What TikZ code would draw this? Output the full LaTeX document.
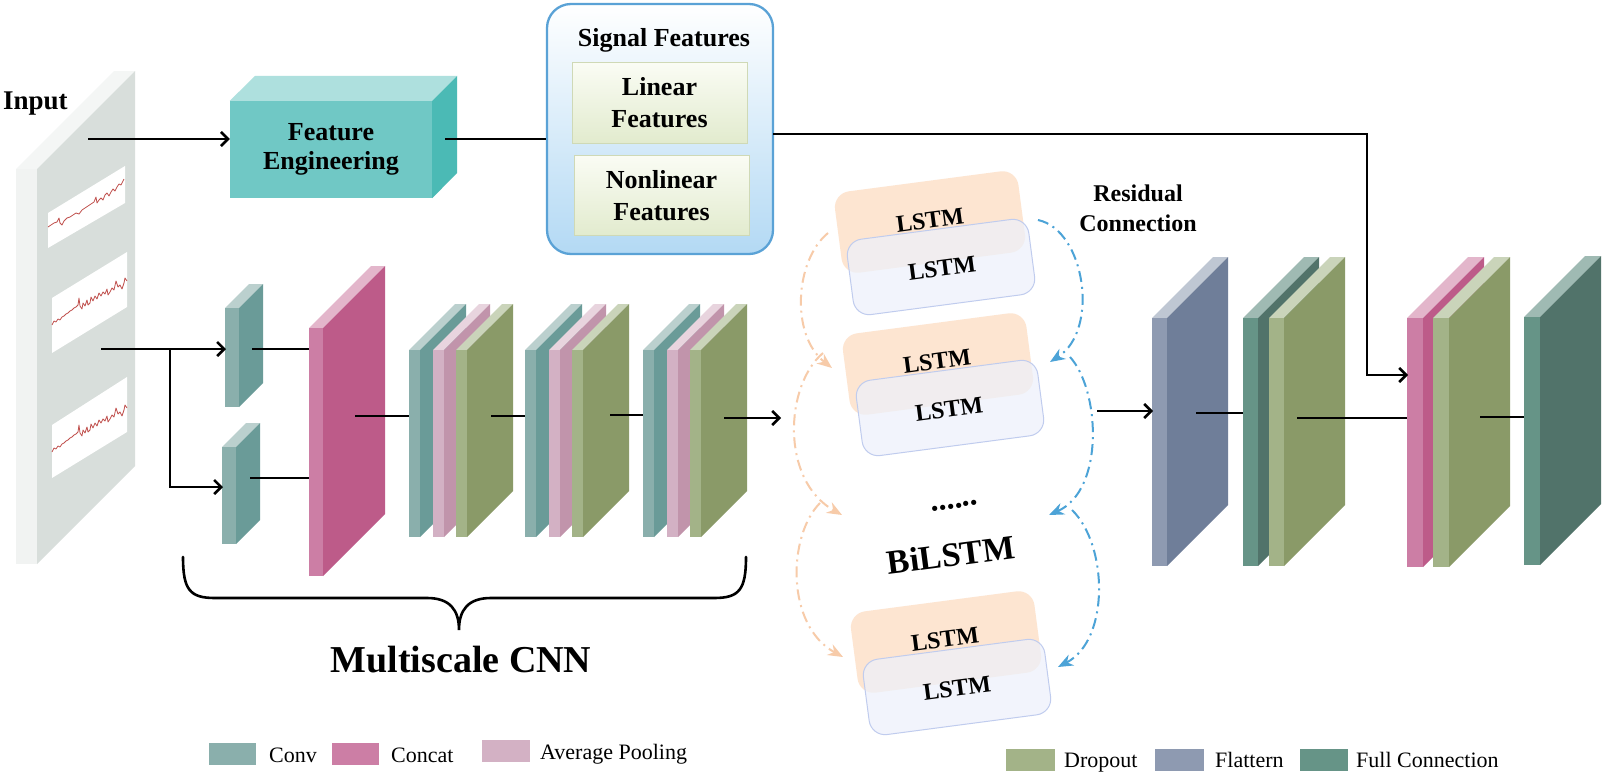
\documentclass[tikz,border=0pt]{standalone}
\usepackage{fontspec}
\setmainfont{Liberation Serif}
\usetikzlibrary{arrows.meta}
\definecolor{inF}{HTML}{F1F3F2}\definecolor{inS}{HTML}{D8DEDB}\definecolor{inT}{HTML}{F4F6F5}
\definecolor{feF}{HTML}{70C8C5}\definecolor{feS}{HTML}{4BBAB5}\definecolor{feT}{HTML}{AEE0DE}
\definecolor{cvF}{HTML}{8AAFAC}\definecolor{cvS}{HTML}{6A9B98}\definecolor{cvT}{HTML}{BBD0CE}
\definecolor{ctF}{HTML}{CC7EA5}\definecolor{ctS}{HTML}{BD5B89}\definecolor{ctT}{HTML}{E3B6CB}
\definecolor{apF}{HTML}{D3B1C4}\definecolor{apS}{HTML}{C194AB}\definecolor{apT}{HTML}{E8D4DE}
\definecolor{drF}{HTML}{A3B388}\definecolor{drS}{HTML}{8A9A68}\definecolor{drT}{HTML}{CAD4BA}
\definecolor{flF}{HTML}{8E9AB1}\definecolor{flS}{HTML}{6F7E99}\definecolor{flT}{HTML}{BFC7D3}
\definecolor{fcF}{HTML}{669487}\definecolor{fcS}{HTML}{51736A}\definecolor{fcT}{HTML}{9FBAB3}
\definecolor{sfB}{HTML}{5AA2D6}\definecolor{sfL}{HTML}{B3D9F4}
\definecolor{ibT}{HTML}{FAFCF4}\definecolor{ibB}{HTML}{E2EBCE}\definecolor{ibD}{HTML}{CFD9B6}
\definecolor{lor}{HTML}{FDE5D1}\definecolor{lbl}{HTML}{EDF1FB}\definecolor{lbd}{HTML}{C0CCEE}
\definecolor{dor}{HTML}{F7CBA9}\definecolor{dbl}{HTML}{4CA3D7}\definecolor{sig}{HTML}{C0504D}
% slab: name, x, ytop, ybottom, width, depth, front, side, top
\newcommand\slab[9]{%
  \fill[#9] (#2,#3) -- (#2+#5,#3) -- (#2+#5+#6,#3-#6) -- (#2+#6,#3-#6) -- cycle;
  \fill[#8] (#2+#5,#3) -- (#2+#5+#6,#3-#6) -- (#2+#5+#6,#4-#6) -- (#2+#5,#4) -- cycle;
  \fill[#7] (#2,#3) rectangle (#2+#5,#4);
  \coordinate (#1) at (#2,#3);}
\begin{document}
\begin{tikzpicture}[x=1pt,y=-1pt,
  ln/.style={line width=2.6pt,black},
  arr/.style={ln,-{Straight Barb[length=7pt,width=14pt]}},
  oarc/.style={line width=2pt,draw=dor,dash pattern=on 11pt off 5pt on 2pt off 5pt,-{Stealth[length=15pt,width=12pt]}},
  barc/.style={line width=2pt,draw=dbl,dash pattern=on 11pt off 5pt on 2pt off 5pt,-{Stealth[length=15pt,width=12pt]}},
  bt/.style={font=\bfseries\fontsize{26}{30}\selectfont,align=center},
  obox/.style={fill=lor,rounded corners=16pt,minimum width=185pt,minimum height=82pt,rotate=7.5,inner sep=0pt},
  bbox/.style={fill=lbl,fill opacity=0.72,draw=lbd,line width=1pt,rounded corners=16pt,minimum width=183pt,minimum height=76pt,rotate=7.5,inner sep=0pt},
  lt/.style={rotate=7.5,inner sep=0pt,font=\bfseries\fontsize{24}{26}\selectfont},
  ibox/.style={top color=ibT,bottom color=ibB,draw=ibD,line width=1pt,minimum width=175pt,minimum height=80pt,inner sep=0pt,bt,font=\bfseries\fontsize{26}{32}\selectfont},
  leg/.style={font=\fontsize{22}{26}\selectfont,anchor=base west,inner sep=0pt},
  sigl/.style={draw=sig,line width=0.8pt,line join=round}]
\useasboundingbox (0,0) rectangle (1605,776);
\fill[white] (0,0) rectangle (1605,776);

% ---------- input panel ----------
\slab{inp}{16}{169}{564}{21}{98}{inF}{inS}{inT}
\fill[white] (48,213) -- (125,166) -- (125,203) -- (48,248) -- cycle;
\fill[white] (52,298) -- (127,252) -- (127,307) -- (52,353) -- cycle;
\fill[white] (52,425) -- (127,377) -- (127,432) -- (52,478) -- cycle;
\begin{scope}[shift={(48,227)}]
\draw[sigl] plot coordinates {(0,0) (3,-2) (6,-4) (9,-5) (11,-9) (12,-4) (14,-2) (16,-6) (19,-9) (22,-10) (25,-12) (28,-14) (31,-13) (34,-17) (37,-19) (40,-21) (43,-23) (46,-25) (48,-30) (49,-24) (51,-27) (53,-29) (55,-27) (57,-32) (59,-34) (61,-31) (63,-35) (65,-38) (67,-36) (69,-40) (71,-43) (73,-42) (76,-48)};
\end{scope}
\foreach \yy in {325,452}{
\begin{scope}[shift={(52,\yy)}]
\draw[sigl] plot coordinates {(0,0) (2,-4) (4,-3) (6,-6) (8,-5) (10,-8) (12,-9) (14,-11) (16,-12) (18,-14) (20,-15) (22,-17) (24,-18) (26,-20) (27,-27) (28,-19) (30,-16) (31,-22) (33,-19) (35,-25) (36,-20) (38,-22) (39,-28) (41,-24) (43,-29) (45,-26) (47,-32) (49,-29) (51,-33) (53,-31) (55,-36) (56,-30) (58,-33) (60,-37) (62,-35) (64,-44) (66,-38) (68,-40) (70,-36) (72,-42) (73,-47) (75,-44)};
\end{scope}}
\node[anchor=base west,inner sep=0pt,font=\bfseries\fontsize{27}{30}\selectfont] (inlab) at (3,109) {Input};

% ---------- feature engineering ----------
\node[fill=feF,minimum width=202pt,minimum height=97pt,inner sep=0pt,bt,font=\bfseries\fontsize{26}{29}\selectfont] (fe) at (331,149.5) {Feature\\Engineering};
\fill[feT] (fe.north west) -- (fe.north east) -- ++(25,-25) -- ++(-202,0) -- cycle;
\fill[feS] (fe.north east) -- ++(25,-25) -- ++(0,97) -- (fe.south east) -- cycle;

% ---------- signal features ----------
\node[draw=sfB,line width=2.3pt,rounded corners=24pt,top color=white,bottom color=sfL,minimum width=226pt,minimum height=250pt,inner sep=0pt] (sf) at (660,129) {};
\node[bt,anchor=base,inner sep=0pt] (sft) at (664,47) {Signal Features};
\node[ibox] (lin) at (659.5,103) {Linear\\Features};
\node[ibox] (nlin) at (661.5,195.5) {Nonlinear\\Features};

% ---------- CNN ----------
\slab{cu}{225}{308}{407}{14}{24}{cvF}{cvS}{cvT}
\slab{cl}{222}{447}{544}{14}{24}{cvF}{cvS}{cvT}
\slab{cat}{309}{328}{576}{14}{62}{ctF}{ctS}{ctT}
\foreach \bx in {409,525,643}{
  \slab{b}{\bx}{350}{537}{11}{46}{cvF}{cvS}{cvT}
  \slab{b}{\bx+24}{350}{537}{11}{46}{apF}{apS}{apT}
  \slab{b}{\bx+47}{350}{537}{11}{46}{drF}{drS}{drT}
}
\coordinate (inA) at (88,139);
\draw[arr] (inA) -- (inA -| fe.west);
\coordinate (feO) at (445,139);
\draw[ln] (feO) -- (feO -| sf.west);
\coordinate (inB) at (101,349);
\coordinate (br) at (170,349);
\coordinate (cuI) at (226,349);
\coordinate (clI) at (223,487);
\draw[arr] (inB) -- (cuI);
\draw[arr] (br) |- (clI);
\coordinate (cuO) at (252,349); \coordinate (catA) at (309,349);
\coordinate (clO) at (250,478); \coordinate (catB) at (309,478);
\draw[ln] (cuO) -- (catA);
\draw[ln] (clO) -- (catB);
\coordinate (catO) at (355,416); \coordinate (b1I) at (409,416);
\draw[ln] (catO) -- (b1I);
\coordinate (b1O) at (491,416); \coordinate (b2I) at (525,416);
\draw[ln] (b1O) -- (b2I);
\coordinate (b2O) at (610,415); \coordinate (b3I) at (643,415);
\draw[ln] (b2O) -- (b3I);
\coordinate (b3O) at (724,418); \coordinate (lsI) at (781,418);
\draw[arr] (b3O) -- (lsI);

% brace
\draw[ln,line cap=round] (183,557) .. controls (183,590) and (190,598) .. (215,598) -- (427,598)
  .. controls (450,598) and (459,610) .. (459,630)
  .. controls (459,610) and (468,598) .. (491,598) -- (714,598)
  .. controls (739,598) and (746,590) .. (746,557);
\node[anchor=base,inner sep=0pt,font=\bfseries\fontsize{38}{42}\selectfont] (mcnn) at (461,672) {Multiscale CNN};

% ---------- BiLSTM ----------
\node[obox] (o1) at (930,222) {};
\node[lt] (o1t) at (930,220) {LSTM};
\node[bbox] (u1) at (941,267) {};
\node[lt] (u1t) at (942,268) {LSTM};
\node[obox] (o2) at (938,364) {};
\node[lt] (o2t) at (937,361) {LSTM};
\node[bbox] (u2) at (950,408) {};
\node[lt] (u2t) at (949,409) {LSTM};
\node[obox] (o3) at (946,642) {};
\node[lt] (o3t) at (945,639) {LSTM};
\node[bbox] (u3) at (957,687) {};
\node[lt] (u3t) at (957,688) {LSTM};
\node[rotate=7.5,inner sep=0pt,font=\bfseries\fontsize{32}{34}\selectfont] (dots) at (955,508) {\smash{......}};
\node[rotate=7.5,inner sep=0pt,font=\bfseries\fontsize{34}{38}\selectfont] (bil) at (951,555) {BiLSTM};
\node[bt,inner sep=0pt,font=\bfseries\fontsize{24}{30}\selectfont] (res) at (1138,208) {Residual\\Connection};

\coordinate (oa1) at (828,233); \coordinate (oa1e) at (832,368);
\coordinate (oa2) at (823,353); \coordinate (oa2e) at (842,515);
\coordinate (oa3) at (820,503); \coordinate (oa3e) at (843,657);
\draw[oarc] (oa1) .. controls (795,260) and (790,335) .. (oa1e);
\draw[oarc] (oa2) .. controls (785,385) and (780,480) .. (oa2e);
\draw[oarc] (oa3) .. controls (788,535) and (785,625) .. (oa3e);
\coordinate (ba1) at (1038,220); \coordinate (ba1e) at (1050,362);
\coordinate (ba2) at (1070,357); \coordinate (ba2e) at (1049,515);
\coordinate (ba3) at (1072,510); \coordinate (ba3e) at (1058,667);
\draw[barc] (ba1) .. controls (1085,230) and (1100,330) .. (ba1e);
\draw[barc] (ba2) .. controls (1100,390) and (1105,490) .. (ba2e);
\draw[barc] (ba3) .. controls (1108,545) and (1110,640) .. (ba3e);

% ---------- right part ----------
\slab{fl}{1152}{318}{566}{15}{61}{flF}{flS}{flT}
\slab{fc1}{1243}{318}{566}{15}{61}{fcF}{fcS}{fcT}
\slab{dr1}{1269}{318}{566}{15}{61}{drF}{drS}{drT}
\slab{cat2}{1407}{318}{567}{16}{61}{ctF}{ctS}{ctT}
\slab{dr2}{1433}{318}{567}{16}{61}{drF}{drS}{drT}
\slab{fc2}{1524}{317}{565}{16}{61}{fcF}{fcS}{fcT}
\coordinate (lsO) at (1097,411); \coordinate (flI) at (1153,411);
\draw[arr] (lsO) -- (flI);
\coordinate (flO) at (1196,413); \coordinate (fc1I) at (1243,413);
\draw[ln] (flO) -- (fc1I);
\coordinate (dr1O) at (1297,418); \coordinate (cat2I) at (1407,418);
\draw[ln] (dr1O) -- (cat2I);
\coordinate (dr2O) at (1480,417); \coordinate (fc2I) at (1524,417);
\draw[ln] (dr2O) -- (fc2I);
\coordinate (sfO) at (773,134); \coordinate (turn) at (1367,134); \coordinate (cat2T) at (1408,375);
\draw[arr,line join=miter] (sfO) -- (turn) |- (cat2T);

% ---------- legends ----------
\fill[cvF] (209,743) rectangle (256,765); \node[leg] (lg1) at (269,762) {Conv};
\fill[ctF] (332,743) rectangle (379,765); \node[leg] (lg2) at (391,762) {Concat};
\fill[apF] (482,740) rectangle (530,762); \node[leg] (lg3) at (540,759) {Average Pooling};
\fill[drF] (1006,749) rectangle (1055,771); \node[leg] (lg4) at (1064,767) {Dropout};
\fill[flF] (1155,749) rectangle (1204,771); \node[leg] (lg5) at (1215,767) {Flattern};
\fill[fcF] (1300,749) rectangle (1348,771); \node[leg] (lg6) at (1356,767) {Full Connection};
\end{tikzpicture}
\end{document}
